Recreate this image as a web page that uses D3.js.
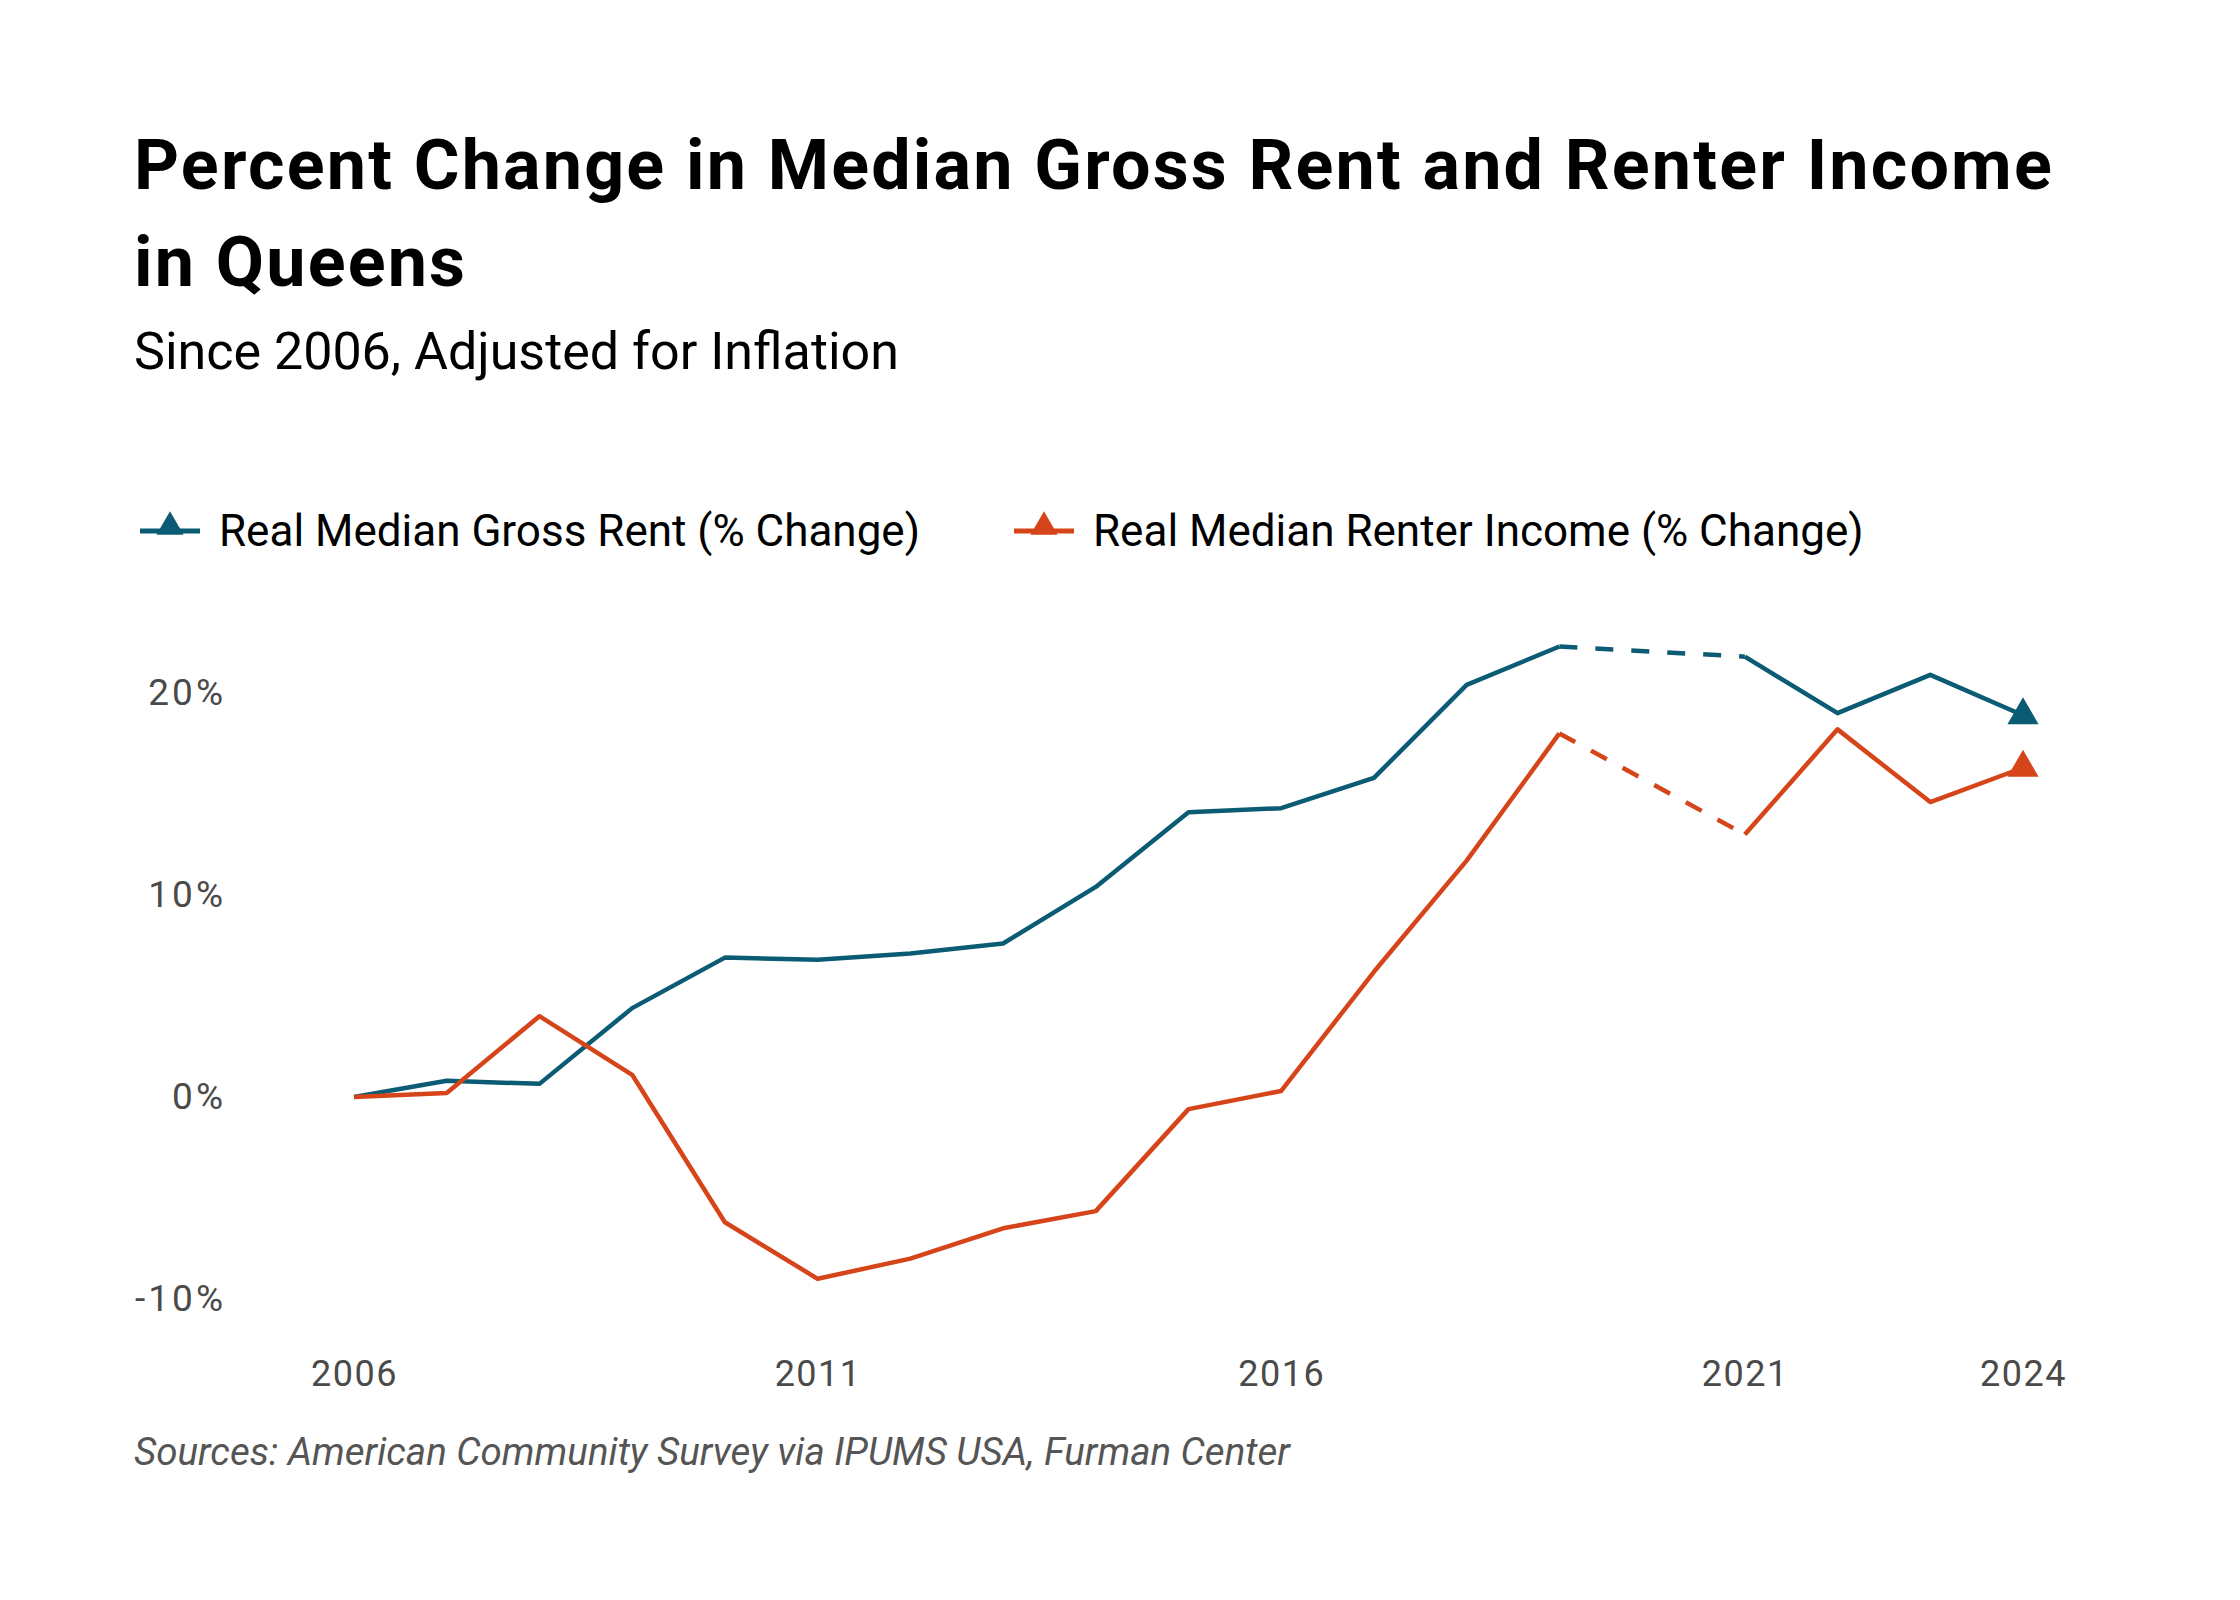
<!DOCTYPE html>
<html>
<head>
<meta charset="utf-8">
<script src="https://cdn.jsdelivr.net/npm/d3@7"></script>
<style>
  html, body { margin: 0; padding: 0; background: #fff; }
  svg text { font-family: Roboto, "Noto Sans", sans-serif; }
</style>
</head>
<body>
<svg id="chart" width="2240" height="1600"></svg>
<script>
// data (2020 has no data point, gap drawn dashed)
const years = [2006, 2007, 2008, 2009, 2010, 2011, 2012, 2013, 2014, 2015, 2016, 2017, 2018, 2019, 2021, 2022, 2023, 2024];
const rentChange = [0, 0.8, 0.65, 4.4, 6.9, 6.8, 7.1, 7.6, 10.4, 14.1, 14.3, 15.8, 20.4, 22.3, 21.8, 19.0, 20.9, 18.9];
const incomeChange = [0, 0.2, 4.0, 1.1, -6.2, -9.0, -8.0, -6.5, -5.65, -0.6, 0.3, 6.2, 11.7, 18.0, 13.0, 18.2, 14.6, 16.3];
const yTicks = [-10, 0, 10, 20];
const xTicks = [2006, 2011, 2016, 2021, 2024];
const seriesNames = ["Real Median Gross Rent (% Change)", "Real Median Renter Income (% Change)"];
const colors = ["#0c5b74", "#d6441a"];

const svg = d3.select("#chart");

const x = d3.scaleLinear().domain([2006, 2024]).range([354, 2023]);
const y = d3.scaleLinear().domain([-10, 20]).range([1299, 693]);

// titles
svg.append("text")
  .attr("x", 134).attr("y", 189)
  .attr("font-size", 70).attr("font-weight", 700).attr("letter-spacing", 2.2).attr("fill", "#000")
  .text("Percent Change in Median Gross Rent and Renter Income");
svg.append("text")
  .attr("x", 134).attr("y", 286)
  .attr("font-size", 70).attr("font-weight", 700).attr("letter-spacing", 2.2).attr("fill", "#000")
  .text("in Queens");
svg.append("text")
  .attr("x", 134).attr("y", 369)
  .attr("font-size", 52).attr("fill", "#000")
  .text("Since 2006, Adjusted for Inflation");

// legend
const tri = d3.symbol().type(d3.symbolTriangle);
const legendX = [140, 1014];
seriesNames.forEach((name, i) => {
  const g = svg.append("g").attr("transform", `translate(${legendX[i]},531)`);
  g.append("line")
    .attr("x1", 0).attr("x2", 60).attr("y1", 0).attr("y2", 0)
    .attr("stroke", colors[i]).attr("stroke-width", 5);
  g.append("path")
    .attr("d", tri.size(320)())
    .attr("transform", "translate(30,-4)")
    .attr("fill", colors[i]);
  g.append("text")
    .attr("x", 79).attr("y", 0).attr("dy", "0.35em")
    .attr("font-size", 44).attr("fill", "#000")
    .text(name);
});

// axes (no domain lines or ticks, just labels)
const yAxis = svg.append("g")
  .attr("transform", "translate(226,0)")
  .call(d3.axisLeft(y).tickValues(yTicks).tickSize(0).tickPadding(0).tickFormat(d => d + "%"));
yAxis.select(".domain").remove();
yAxis.selectAll("text")
  .attr("font-size", 37).attr("letter-spacing", 3).attr("fill", "#4a4a4a")
  .style("font-family", "Roboto, sans-serif");

const xAxis = svg.append("g")
  .attr("transform", "translate(0,1360)")
  .call(d3.axisBottom(x).tickValues(xTicks).tickSize(0).tickPadding(0).tickFormat(d3.format("d")));
xAxis.select(".domain").remove();
xAxis.selectAll("text")
  .attr("font-size", 36).attr("letter-spacing", 1.5).attr("fill", "#4a4a4a")
  .style("font-family", "Roboto, sans-serif");

// lines
const series = [rentChange, incomeChange];
const line = d3.line().x(d => x(d.year)).y(d => y(d.value));

series.forEach((vals, i) => {
  const pts = years.map((yr, j) => ({ year: yr, value: vals[j] }));
  const before = pts.filter(d => d.year <= 2019);
  const after = pts.filter(d => d.year >= 2021);
  const gap = pts.filter(d => d.year === 2019 || d.year === 2021);

  svg.append("path").datum(before)
    .attr("d", line).attr("fill", "none")
    .attr("stroke", colors[i]).attr("stroke-width", 4.5).attr("stroke-linejoin", "round");
  svg.append("path").datum(gap)
    .attr("d", line).attr("fill", "none")
    .attr("stroke", colors[i]).attr("stroke-width", 4.5).attr("stroke-dasharray", "18,18");
  svg.append("path").datum(after)
    .attr("d", line).attr("fill", "none")
    .attr("stroke", colors[i]).attr("stroke-width", 4.5).attr("stroke-linejoin", "round");

  const last = pts[pts.length - 1];
  svg.append("path")
    .attr("d", tri.size(420)())
    .attr("transform", `translate(${x(last.year)},${y(last.value)})`)
    .attr("fill", colors[i]);
});

// source note
svg.append("text")
  .attr("x", 134).attr("y", 1465)
  .attr("font-size", 38.5).attr("font-style", "italic").attr("fill", "#555")
  .text("Sources: American Community Survey via IPUMS USA, Furman Center");
</script>
</body>
</html>
